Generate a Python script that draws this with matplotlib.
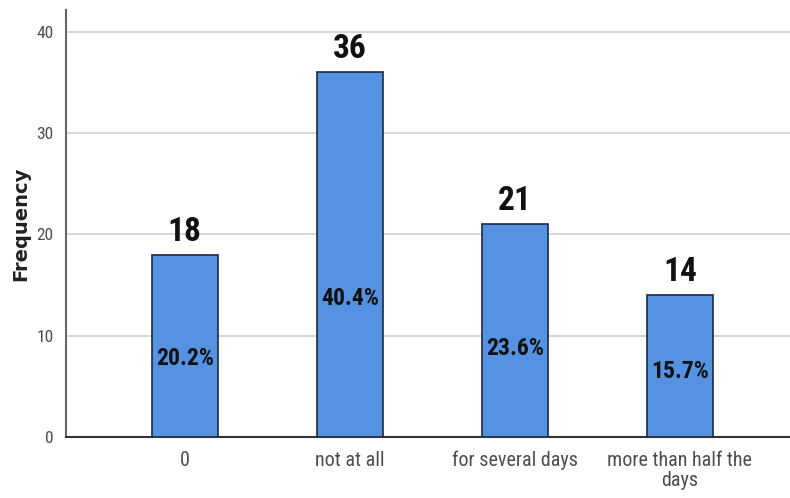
import matplotlib
matplotlib.use("Agg")
import matplotlib.pyplot as plt
from matplotlib import font_manager as fm

categories = ["0", "not at all", "for several days", "more than half the\ndays"]
counts = [18, 36, 21, 14]
yticks = [0, 10, 20, 30, 40]

available = {f.name for f in fm.fontManager.ttflist}

def pick(cands):
    for c in cands:
        if c in available:
            return c
    return "DejaVu Sans"

cond = pick(["Roboto Condensed", "Liberation Sans Narrow", "DejaVu Sans Condensed",
             "Open Sans Condensed", "Noto Sans Condensed", "Roboto", "DejaVu Sans"])
regular = pick(["Roboto Condensed", "Liberation Sans Narrow", "Roboto", "Liberation Sans"])

total = sum(counts)
pcts = [100.0 * c / total for c in counts]

fig = plt.figure(figsize=(7.9, 4.98), dpi=100)
ax = fig.add_axes([0.0835, 0.1225, 0.9165, 0.8575])

x = list(range(len(categories)))
ax.bar(x, counts, width=0.4, color="#5592e2", edgecolor="#1c2a40", linewidth=1.2, zorder=3)

ax.set_xlim(-0.72, 3.667)
ax.set_ylim(0, 42.15)
ax.set_yticks(yticks)
ax.set_xticks(x)
ax.set_xticklabels(categories, fontsize=14.5, color="#4d4d4d", family=regular,
                   linespacing=1.05)
ax.set_yticklabels([str(t) for t in yticks], fontsize=12.5, color="#4d4d4d", family=regular)
ax.tick_params(axis="both", length=0)
ax.tick_params(axis="x", pad=10)
ax.tick_params(axis="y", pad=9)

ax.grid(axis="y", color="#cfcfcf", linewidth=1.2, zorder=0)
for s in ["top", "right"]:
    ax.spines[s].set_visible(False)
ax.spines["left"].set_color("#666666")
ax.spines["left"].set_linewidth(1.5)
ax.spines["bottom"].set_color("#333333")
ax.spines["bottom"].set_linewidth(1.5)

ax.set_ylabel("Frequency", fontsize=14, fontweight="bold", color="#222222",
              family="DejaVu Sans")
ax.yaxis.set_label_coords(-0.05, 0.5)

for xi, c, p in zip(x, counts, pcts):
    ax.annotate(str(c), (xi, c), xytext=(0, 5), textcoords="offset points",
                ha="center", va="bottom", fontsize=24, fontweight="bold",
                family=cond, color="#111111", zorder=4)
    ax.text(xi, 0.33 * c + 1.8, f"{p:.1f}%", ha="center", va="center", fontsize=17,
            fontweight="bold", family=cond, color="#111111", zorder=4)

fig.savefig("out.png", dpi=100)
